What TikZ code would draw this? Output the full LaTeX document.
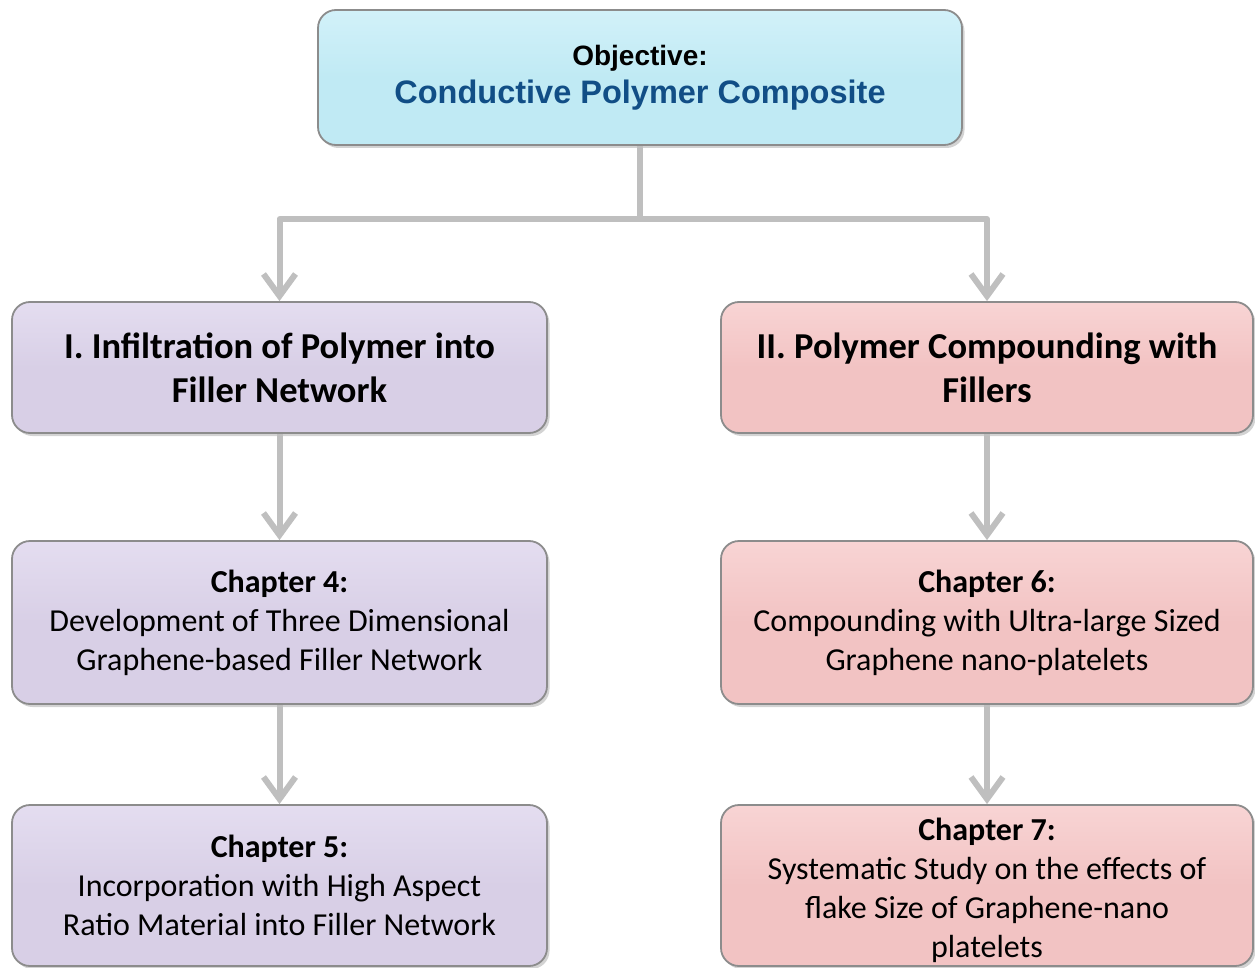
\documentclass[tikz,border=0pt]{standalone}
\usepackage{fontspec}
\setmainfont{Carlito}
\newfontfamily\arialf{Liberation Sans}
\usetikzlibrary{arrows.meta,shadows,calc}
\definecolor{topfill}{HTML}{C0EAF4}
\definecolor{topfilltop}{HTML}{D2F1F9}
\definecolor{lavfill}{HTML}{D8CFE6}
\definecolor{lavfilltop}{HTML}{E4DDF0}
\definecolor{pinkfill}{HTML}{F2C3C3}
\definecolor{pinkfilltop}{HTML}{F8D4D4}
\definecolor{conngray}{HTML}{BFBFBF}
\definecolor{objblue}{HTML}{114E86}
\begin{document}
\begin{tikzpicture}[x=1pt,y=-1pt,
  basebox/.style={rounded corners=18pt, draw=black!45, line width=1.8pt,
    drop shadow={shadow xshift=2.5pt, shadow yshift=-3pt, opacity=0.35},
    inner sep=0pt, align=center, text=black},
  topbox/.style={basebox, top color=topfilltop, bottom color=topfill, middle color=topfill,
    minimum width=644pt, minimum height=135pt},
  lavbox/.style={basebox, top color=lavfilltop, bottom color=lavfill, middle color=lavfill},
  pinkbox/.style={basebox, top color=pinkfilltop, bottom color=pinkfill, middle color=pinkfill},
  lvlone/.style={minimum width=535pt, minimum height=131pt,
    font=\fontsize{36.5}{44}\selectfont\bfseries},
  lvltwo/.style={minimum width=535pt, minimum height=163pt,
    font=\fontsize{32}{39}\selectfont},
  lvlthree/.style={minimum width=535pt, minimum height=161pt,
    font=\fontsize{32}{39}\selectfont},
  chaptext/.style={inner sep=0pt, align=center, font=\fontsize{32}{39}\selectfont},
  conn/.style={draw=conngray, line width=6pt, line join=round},
  arr/.style={conn, -{Straight Barb[length=22pt, width=32pt]}}
]
\useasboundingbox (0,0) rectangle (1255,968);

% boxes
\node[topbox] (top) at (640,77.5)
  {{\arialf\bfseries\fontsize{28}{34}\selectfont Objective:}\\[8pt]
   {\arialf\bfseries\fontsize{32.5}{38}\selectfont\color{objblue}Conductive Polymer Composite}};

\node[lavbox, lvlone] (l1) at (279.5,367.5)
  {I. Infiltration of Polymer into\\Filler Network};
\node[pinkbox, lvlone, minimum width=532pt] (r1) at (987,367.5)
  {II. Polymer Compounding with\\Fillers};

\node[lavbox, lvltwo] (l2) at (279.5,622.5)
  {\textbf{Chapter 4:}\\Development of Three Dimensional\\Graphene-based Filler Network};
\node[pinkbox, lvltwo, minimum width=532pt] (r2) at (987,622.5)
  {\textbf{Chapter 6:}\\Compounding with Ultra-large Sized\\Graphene nano-platelets};

\node[lavbox, lvlthree] (l3) at (279.5,885.5)
  {\textbf{Chapter 5:}\\Incorporation with High Aspect\\Ratio Material into Filler Network};
\node[pinkbox, lvlthree, minimum width=532pt] (r3) at (987,885.5) {};
\node[chaptext] (r3t) at ($(r3)+(0,4.5)$)
  {\textbf{Chapter 7:}\\Systematic Study on the effects of\\flake Size of Graphene-nano\\platelets};

% connectors
\coordinate (j) at (640,219);
\draw[conn] (top.south) -- (j);
\draw[arr] (j) -| (l1.north);
\draw[arr] (j) -| (r1.north);
\draw[arr] (l1.south) -- (l2.north);
\draw[arr] (r1.south) -- (r2.north);
\draw[arr] (l2.south) -- (l3.north);
\draw[arr] (r2.south) -- (r3.north);
\end{tikzpicture}
\end{document}
